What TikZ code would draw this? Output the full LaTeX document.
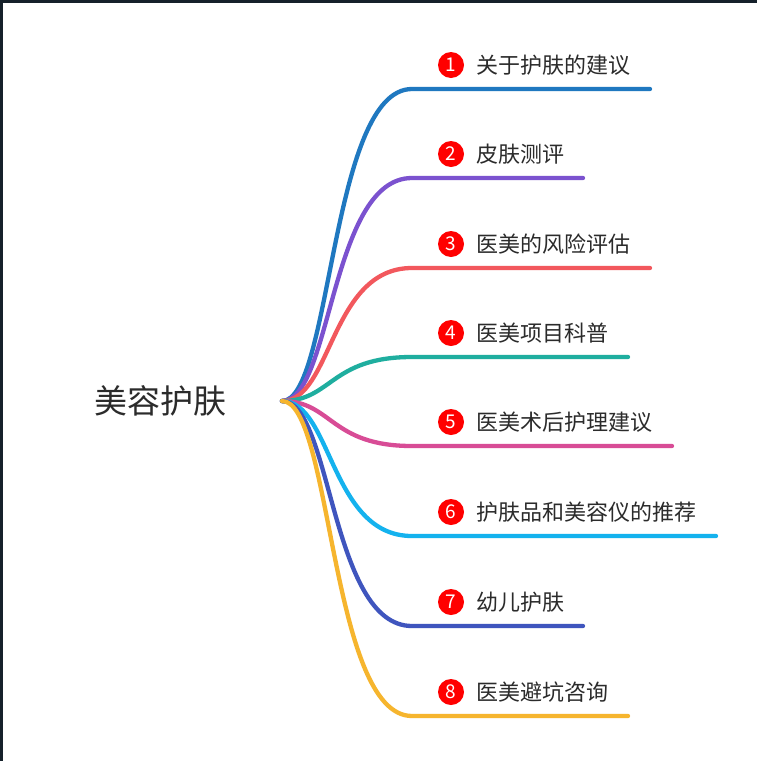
\documentclass[tikz,border=0pt]{standalone}
\usepackage{fontspec}
\setmainfont{Noto Sans CJK SC}
\definecolor{c1}{HTML}{1F78C0}
\definecolor{c2}{HTML}{7B52CF}
\definecolor{c3}{HTML}{F2585D}
\definecolor{c4}{HTML}{1FAE9F}
\definecolor{c5}{HTML}{D84C96}
\definecolor{c6}{HTML}{14B2EE}
\definecolor{c7}{HTML}{3F55BE}
\definecolor{c8}{HTML}{F6B52E}
\definecolor{txt}{HTML}{2B2B2B}
\definecolor{frame}{HTML}{15202A}
\begin{document}
\begin{tikzpicture}[x=1pt,y=-1pt,
  branch/.style={line width=4.3pt,line cap=round},
  badge/.style={circle,fill=red,minimum size=26pt,inner sep=0pt,text=white,font=\fontsize{19}{21}\selectfont},
  lbl/.style={anchor=west,inner sep=0pt,text=txt,font=\fontsize{22}{26}\selectfont}]
\useasboundingbox (0,0) rectangle (757,761);
\fill[white] (0,0) rectangle (757,761);
\fill[frame] (0,0) rectangle (757,2.5);
\fill[frame] (0,0) rectangle (2.5,761);
\node[inner sep=0pt,text=txt,font=\fontsize{33}{40}\selectfont] (root) at (160,401) {美容护肤};
\coordinate (o) at (282,401);
\foreach \i/\y/\xe/\t in {1/89/650/关于护肤的建议,2/178/583/皮肤测评,3/268/650/医美的风险评估,4/357/628/医美项目科普,5/446/672/医美术后护理建议,6/536/716/护肤品和美容仪的推荐,7/626/583/幼儿护肤,8/716/628/医美避坑咨询}{
  \coordinate (e\i) at (412,\y);
  \coordinate (f\i) at (\xe,\y);
  \node[badge] (b\i) at (451,\y-24) {\i};
  \node[lbl] (l\i) at (476,\y-24) {\t};
  \draw[branch,c\i] (o) .. controls (332,401) and (330,\y) .. (e\i) -- (f\i);
}
\end{tikzpicture}
\end{document}
